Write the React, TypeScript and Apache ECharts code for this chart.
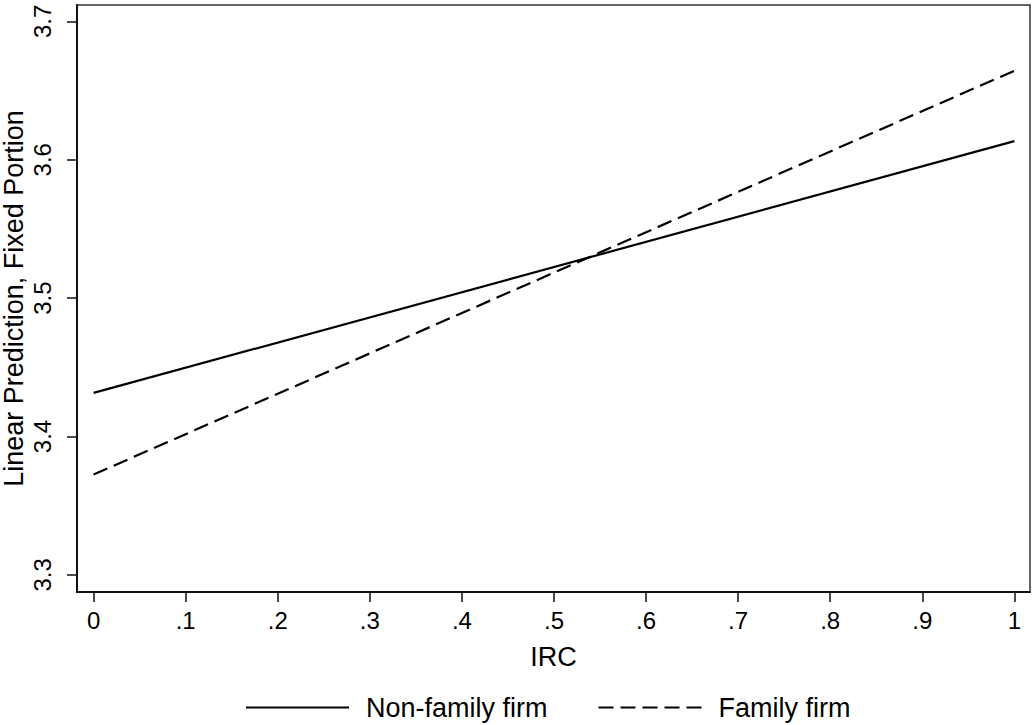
import React, { useEffect, useRef } from "react";
import * as echarts from "echarts";

const xTickValues = [0, 0.1, 0.2, 0.3, 0.4, 0.5, 0.6, 0.7, 0.8, 0.9, 1];
const xTickLabels = ["0", ".1", ".2", ".3", ".4", ".5", ".6", ".7", ".8", ".9", "1"];
const yTickValues = [3.3, 3.4, 3.5, 3.6, 3.7];
const yTickLabels = ["3.3", "3.4", "3.5", "3.6", "3.7"];

const irc = [0, 1];
const nonFamily = [3.4315, 3.6134];
const family = [3.3725, 3.6643];

const seriesNames = ["Non-family firm", "Family firm"];

const FONT = "'Liberation Sans', Arial, Helvetica, sans-serif";

export default function App() {
  const ref = useRef<HTMLDivElement>(null);
  useEffect(() => {
    document.body.style.margin = "0";
    if (!ref.current) return;
    const chart = echarts.init(ref.current, undefined, { renderer: "svg" });
    const labelFor = (vals: number[], labels: string[]) => (v: number) => {
      const i = vals.findIndex((t) => Math.abs(t - v) < 1e-6);
      return i >= 0 ? labels[i] : "";
    };
    chart.setOption({
      animation: false,
      backgroundColor: "#fff",
      textStyle: { fontFamily: FONT },
      grid: {
        left: 77,
        top: 5,
        right: 2,
        bottom: 133,
        show: true,
        borderColor: "#333",
        borderWidth: 1.5,
        containLabel: false,
        outerBoundsMode: "none",
      },
      legend: {
        left: 245,
        top: 694,
        padding: 0,
        itemWidth: 103,
        itemHeight: 20,
        itemGap: 50,
        itemStyle: { opacity: 0 },
        textStyle: {
          fontFamily: FONT,
          fontSize: 27,
          lineHeight: 24,
          color: "#000",
          padding: [0, 0, 0, 12],
        },
        data: seriesNames,
      },
      xAxis: {
        type: "value",
        min: -0.018,
        max: 1.017,
        name: "IRC",
        nameLocation: "middle",
        nameGap: 51,
        nameTextStyle: { fontFamily: FONT, fontSize: 27, color: "#000" },
        splitLine: { show: false },
        axisLine: { show: true, onZero: false, lineStyle: { color: "#111", width: 2 } },
        axisTick: {
          show: true,
          customValues: xTickValues,
          length: 10,
          inside: false,
          lineStyle: { color: "#111", width: 1.5 },
        },
        axisLabel: {
          customValues: xTickValues,
          formatter: labelFor(xTickValues, xTickLabels),
          fontFamily: FONT,
          fontSize: 24,
          color: "#000",
          margin: 16,
        },
      },
      yAxis: {
        type: "value",
        min: 3.2876,
        max: 3.7118,
        name: "Linear Prediction, Fixed Portion",
        nameLocation: "middle",
        nameRotate: 90,
        nameGap: 51,
        nameMoveOverlap: false,
        nameTextStyle: { fontFamily: FONT, fontSize: 27, lineHeight: 24, color: "#000" },
        splitLine: { show: false },
        axisLine: { show: true, onZero: false, lineStyle: { color: "#111", width: 2 } },
        axisTick: {
          show: true,
          customValues: yTickValues,
          length: 10,
          inside: false,
          lineStyle: { color: "#111", width: 1.5 },
        },
        axisLabel: {
          customValues: yTickValues,
          formatter: labelFor(yTickValues, yTickLabels),
          rotate: 90,
          fontFamily: FONT,
          fontSize: 24,
          color: "#000",
          margin: 23,
        },
      },
      series: [
        {
          name: seriesNames[0],
          type: "line",
          symbol: "none",
          data: irc.map((x, i) => [x, nonFamily[i]]),
          lineStyle: { color: "#000", width: 2.2, type: "solid" },
          itemStyle: { color: "#000" },
        },
        {
          name: seriesNames[1],
          type: "line",
          symbol: "none",
          data: irc.map((x, i) => [x, family[i]]),
          lineStyle: { color: "#000", width: 2.2, type: [15, 7] },
          itemStyle: { color: "#000" },
        },
      ],
    });
    return () => chart.dispose();
  }, []);
  return <div ref={ref} style={{ width: 1032, height: 725 }} />;
}
